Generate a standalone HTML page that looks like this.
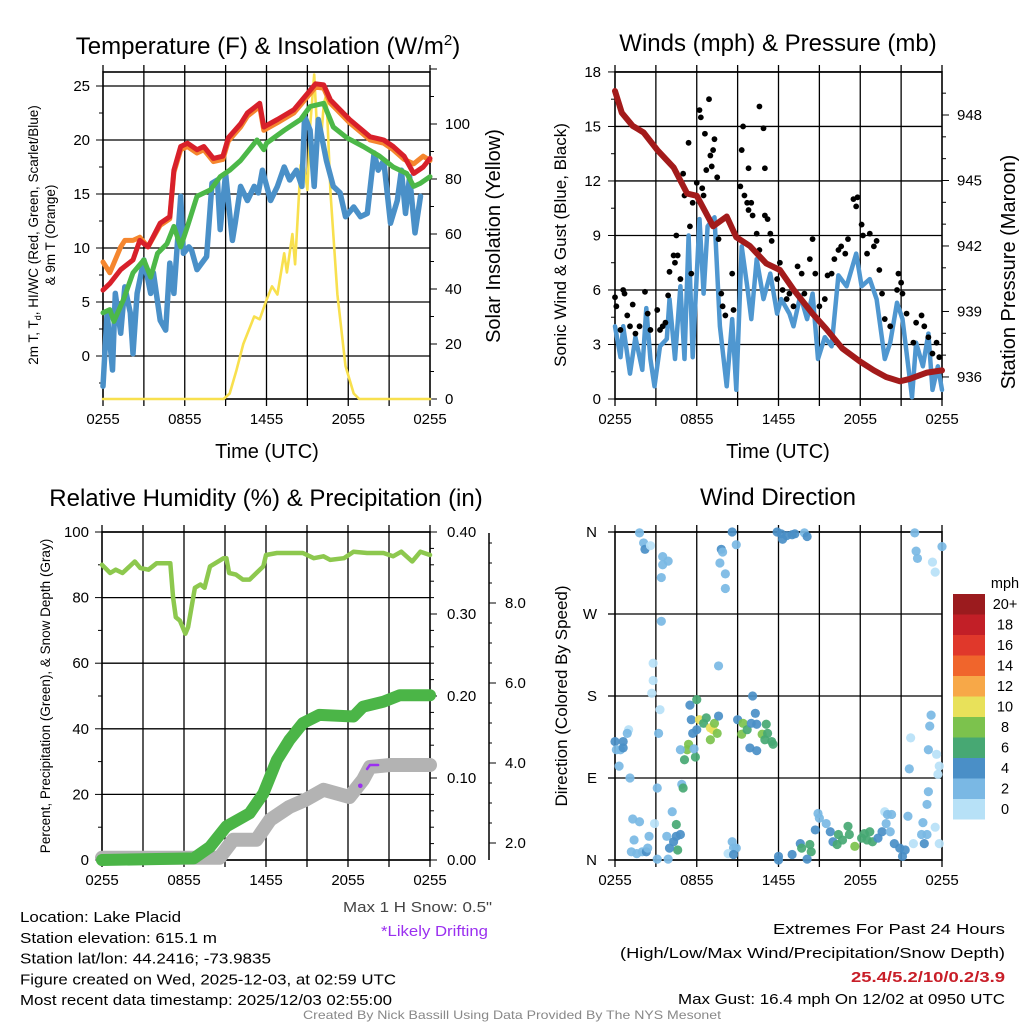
<!DOCTYPE html>
<html><head><meta charset="utf-8"><style>
html,body{margin:0;padding:0;background:#fff}
svg{display:block;font-family:"Liberation Sans",sans-serif}
</style></head><body>
<svg id="c" width="1024" height="1024" viewBox="0 0 1024 1024" xmlns="http://www.w3.org/2000/svg"></svg>
<script>
// ---------- DATA ----------
const xTickLabels=["0255","0855","1455","2055","0255"];
// Panel 1
const redT=[0,0.5,1.3,2.2,2.7,3.3,4.2,4.9,5.2,5.7,6.2,6.9,7.4,8.1,8.8,9.2,10.1,10.6,11.5,11.8,12.8,14.0,15,15.6,16.2,16.7,18.1,19.6,20.6,21.3,22.1,22.8,23.5,24];
const redV=[6.1,6.7,8,8.9,10.7,10.1,12.3,12.9,17.2,19.4,19.7,19.1,19.4,18.3,18.5,20.2,21.5,22.5,23.4,21.2,21.9,22.8,24.3,25.2,25.1,23.7,21.9,20.3,20,19.4,18.5,16.9,17.5,18.3];
const orangeT=[0,0.5,1.3,1.6,2.2,2.7,3.3,4.2,4.9,5.2,5.7,6.2,6.9,7.4,8.1,8.8,9.2,10.1,10.6,11.5,11.8,12.8,14.0,15,15.6,16.2,16.7,18.1,19.6,20.6,21.3,22.1,22.8,23.5,24];
const orangeV=[8.7,7.7,10.1,10.7,10.7,11,10.1,12.1,12.7,17.0,19.1,19.4,18.8,19.1,18.0,18.2,19.9,21.2,22.2,23.1,20.9,21.6,22.5,24.0,24.9,24.8,23.4,21.6,20.0,19.7,19.1,18.2,17.8,18.5,18.1];
const greenT=[0,0.5,0.8,1.5,2.2,2.6,3.0,3.5,4.0,4.7,5.2,5.7,6.2,6.9,7.9,8.6,9.3,10.1,11.3,11.8,12,13.3,14.5,15.2,16.2,16.9,17.9,19.1,20.3,21.3,22.3,22.8,23.3,24];
const greenV=[4,4.3,3.2,5.2,7.7,8.3,8.9,7.3,9.5,10.4,12,10.1,12,14.8,15.4,16.6,17.2,18.1,20,19.1,19.7,20.9,21.9,23.1,23.4,21.2,20.2,19.4,18.5,17.5,16.9,15.7,16,16.6];
const blueT=[0,0.3,0.7,0.9,1.3,1.6,2.0,2.2,2.5,3.0,3.5,3.7,4.2,4.6,4.9,5.2,5.7,5.9,6.3,6.5,6.9,7.6,8.0,8.4,8.6,9.0,9.5,9.7,10.1,10.6,11.1,11.4,11.7,12.3,12.8,13.3,13.7,14.2,14.6,14.8,15.2,15.5,15.8,16.4,16.9,17.4,17.8,18.4,18.9,19.4,19.9,20.2,20.6,21.1,21.6,21.9,22.2,22.5,22.9,23.3];
const blueV=[-2.8,4,-1.3,5.8,2.1,6.4,4,0.2,5.8,8.9,5.8,7.7,3.3,2.4,8.6,5.8,14.8,9.5,10.1,9.8,8,9.2,16,16.3,11.7,16.9,10.7,12.3,15.7,14.4,15.7,15.1,17.2,14.4,15.7,17.5,16.3,17.2,15.7,22.2,20.9,15.7,21.9,18.1,15.7,15.1,12.9,13.8,12.9,13.2,18.8,17.2,18.1,12.3,14.4,17.2,13.2,16.6,11.4,14.8];
const solarT=[0,8.85,9.3,9.8,10.3,11.1,11.5,12.0,12.4,12.8,13.3,13.5,13.9,14.1,14.5,14.7,15.0,15.2,15.5,15.7,16.0,16.2,16.4,16.7,17.2,17.8,18.4,18.8,24];
const solarV=[0,0,2,10.5,20,30,29,36,41,38,53,46,60,49,85,87,76,99,118,99,94,107,111,75,38,12,2,0,0];
// Panel 2
const presT=[0,0.5,1.3,2.1,3.1,4.3,5.3,6.0,7.2,8.2,8.9,9.9,11.1,12.1,13.1,14.5,15.5,16.7,18.0,19.0,19.9,20.9,21.6,22.9,24];
const presV=[949.1,948.1,947.5,947.2,946.4,945.6,944.4,944.3,942.9,943.35,942.4,942.0,941.2,940.9,940.0,938.9,938.2,937.3,936.7,936.3,936.0,935.8,935.9,936.2,936.3];
const windT=[0,0.4,0.6,1.1,1.5,2.0,2.3,2.6,2.9,3.3,3.8,4.0,4.4,4.8,5.1,5.4,5.7,6.2,6.5,6.8,7.3,7.7,8.2,8.6,8.9,9.3,9.7,10.0,10.4,10.9,11.4,11.9,12.2,12.8,13.1,13.6,14.1,14.5,14.9,15.4,15.9,16.4,17.0,17.7,18.1,18.7,19.2,19.8,20.2,20.7,21.1,21.8,22.1,22.6,23.0,23.3,23.7,24];
const windV=[4,2.3,4,1.4,3.4,1.6,5,2.2,0.7,2.9,3.3,5.5,2.2,6.2,2.2,9,2.3,9.9,5.8,9.5,10,4,0.7,4.4,0.5,8.4,6.2,4.4,7.7,5.5,6.9,4.7,5.5,4.7,4,5.7,4.4,5.8,2.2,3.4,2.9,6.8,6.2,8,6.2,6.6,5.5,2.2,3.1,5.3,4.4,0.1,3.1,1.8,3.6,0.5,1.8,0.5];
const gustT=[0,0.1,0.4,0.6,0.7,0.9,1.1,1.3,1.5,1.8,2.2,2.4,2.6,3.1,3.3,3.5,3.7,3.9,4.0,4.3,4.4,4.5,4.6,4.8,5.0,5.1,5.4,5.5,5.6,5.7,6.0,6.2,6.3,6.4,6.5,6.6,6.7,6.9,7.0,7.1,7.2,7.3,7.5,7.6,7.8,7.9,8.1,8.6,8.7,9.2,9.3,9.4,9.5,9.7,9.8,9.8,10.0,10.1,10.4,10.6,10.6,10.9,11,11,11.2,11.4,11.5,11.9,12.1,12.3,12.6,12.8,13.1,13.4,13.7,13.9,14.3,14.5,14.7,15,15.4,15.6,15.9,16.1,16.4,16.6,16.9,17.1,17.5,17.7,17.8,18.1,18.2,18.5,18.7,19,19.2,19.4,19.6,19.8,20.2,20.7,20.8,21,21.1,21.4,21.9,22.1,22.5,22.7,23,23.3,23.6,23.8];
const gustV=[5.6,5.1,3.8,6,5.8,4.6,4,5.2,3.6,4,5.9,4.7,3.8,4.9,3.8,4,4.2,5.7,7,7.9,7.5,9,7.9,6.6,12.4,11.2,14.1,9.5,6.9,10.8,11.9,15.9,15.5,11.6,11.2,14.6,12.6,16.5,13.4,12.8,13.7,14.3,12.2,8.8,5.8,5.1,4.6,6.9,4.9,11.7,13.7,15,11.2,10.8,12.7,10.4,10.8,10.1,9.1,8.2,16.1,14.9,12.7,10.1,9.9,9.1,8.7,6.6,7.5,6,5.5,5.8,5.1,7.3,6.9,5.8,7.7,8.8,6.9,5.1,5.5,6.8,6.9,7.7,8.2,8.4,8,8.8,11,10.6,11.1,9.6,9,8,9.1,8.4,8.7,7.1,5.8,4.4,4,6,6.9,6.4,5.8,4.7,3.1,4.2,4.6,4,3.4,2.5,3.1,2.3];
// Panel 3
const rhT=[0,0.6,1.0,1.5,2.4,2.8,3.4,4.0,5.0,5.2,5.4,5.7,6.1,6.3,6.8,7.2,7.5,7.9,8.9,9.1,9.3,9.8,10.3,10.8,11.3,11.8,12.0,12.8,13.7,14.7,15.5,16.2,16.7,17.7,18.4,19.4,20.6,21.3,21.9,22.7,23.3,24];
const rhV=[90,87.5,88.5,87.5,91,89,88.5,90.5,90.5,80,74,73,69,71,83,84,83,89.5,92,92,87.5,87,85.5,85.5,87.5,89.5,93,93.6,93.6,93.6,92,92.6,91.5,92,94,93.6,93.6,92.6,94,91,94,93];
const precipT=[0,6.7,7.9,9.1,10.8,11.8,12.8,13.7,14.7,15.9,18.4,19.1,20.6,21.8,24];
const precipV=[0,0.002,0.016,0.041,0.057,0.081,0.122,0.146,0.167,0.177,0.175,0.187,0.193,0.201,0.201];
const snowT=[0,8.6,9.6,11.3,12.3,13.7,14.9,16.2,18.1,19.1,19.6,21.1,24];
const snowV=[1.63,1.63,2.08,2.08,2.58,2.9,3.08,3.33,3.15,3.58,3.9,3.95,3.95];
const driftT=[19.4,19.6,20.2];
const driftV=[3.85,3.95,3.95];
// Panel 4
const dirT=[1.8,2.1,2.2,2.6,3.5,3.9,3.5,3.4,3.4,2.8,2.8,2.7,3.3,3.2,1.1,3.1,1.0,0.9,0.6,0,0.4,0.1,0.3,0.6,1.3,1.8,1.4,1.2,1.6,2.0,2.3,2.4,2.5,3.1,2.9,3.9,3.8,4.2,4.5,4.6,4.0,4.3,4.5,4.8,4.9,5.0,5.5,6.0,5.6,6.2,6.5,6.7,7.0,7.2,7.5,7.3,7.0,6.0,5.7,5.4,5.3,5.1,5.9,4.8,5.8,7.6,9.0,9.4,9.3,9.7,10.1,10.3,10.0,10.4,10.8,11.1,11.2,11.5,11.6,11.0,9.9,10.4,7.6,7.8,7.9,7.7,8.1,8.1,8.6,8.9,11.9,12.2,12.6,13.0,13.2,12.3,13.9,14.1,8.6,8.7,8.9,8.3,8.7,12.0,12.0,13.0,13.6,13.7,14.3,14.4,14.1,14.7,14.9,15.0,15.5,15.8,16.0,16.4,16.3,16.7,17.1,17.2,17.6,18.1,18.3,18.7,18.5,18.9,19.3,19.6,19.8,20.0,20.3,19.9,20.2,20.5,20.9,21.1,21.3,21.5,21.9,22.5,22.7,22.9,23.0,22.9,22.6,23.5,23.8,22.0,22.1,22.2,23.3,23.5,24.0,23.2,23.1,21.7,23.0,23.6,23.8,23.7,21.6];
const dirV=[359,348,341,345,333,328,324,310,262,216,197,183,165,139,90,79,143,139,130,130,121,121,103,123,45,42,22,9,7,9,9,13,26,1,40,1,26,53,39,11,13,20,26,28,83,79,170,176,154,154,150,156,145,143,139,150,132,143,139,127,121,110,113,121,122,158,154,150,138,143,180,161,150,149,138,149,139,130,127,132,123,120,213,341,338,326,314,298,360,346,360,358,356,357,358,352,359,355,20,13,13,7,6,4,0,6,18,13,17,9,1,33,51,46,40,31,20,28,17,22,37,28,15,24,29,31,22,20,24,31,53,50,50,40,31,18,13,4,11,48,18,28,18,28,75,61,41,36,18,359,339,331,327,316,344,159,147,134,121,116,103,94,100];
const dirS=[2,2,4,0,2,2,2,2,2,0,0,0,0,2,2,2,0,2,4,4,2,2,2,4,2,2,2,2,2,2,4,2,2,2,0,2,2,2,6,6,4,4,4,4,2,6,4,6,4,10,6,6,10,10,8,8,8,4,4,8,8,6,6,2,2,4,4,8,8,6,4,4,4,4,8,6,6,6,6,6,4,4,2,4,2,2,2,2,4,2,4,4,4,4,4,4,2,4,2,2,2,0,4,4,4,4,4,6,6,6,4,4,2,2,2,4,4,6,6,6,6,6,8,6,6,6,6,6,4,4,0,2,2,2,2,4,4,4,4,2,0,2,4,2,2,2,2,0,0,2,2,2,0,0,2,2,2,0,2,0,0,0,2];
const cbLabels=["20+","18","16","14","12","10","8","6","4","2","0"];
const cbColors=["#9b1b1e","#c21f27","#e0382b","#f0652c","#f7a848","#e8e15a","#7cc24d","#47a873","#4a8fc7","#7ab8e4","#b7e1f7"];

// ---------- HELPERS ----------
const NS="http://www.w3.org/2000/svg";
const svg=document.getElementById('c');
const TK=15;
function mk(tag,attrs,parent){const e=document.createElementNS(NS,tag);for(const k in attrs)e.setAttribute(k,attrs[k]);(parent||svg).appendChild(e);return e;}
function txt(s,x,y,size,anchor,parent,extra){const e=mk('text',Object.assign({x:x,y:y,'font-size':size,'text-anchor':anchor||'middle',fill:'#000'},extra||{}),parent);e.textContent=s;return e;}
function lin(x1,y1,x2,y2,col,w,parent){return mk('line',{x1:x1,y1:y1,x2:x2,y2:y2,stroke:col,'stroke-width':w},parent);}
function pathFrom(T,V,fx,fy){return T.map((t,i)=>(i?'L':'M')+fx(t).toFixed(1)+','+fy(V[i]).toFixed(1)).join('');}

function frame(x0,x1,y0,y1,name,hGridVals,fy){
  const g=mk('g',{});
  
  
  const fx=t=>x0+t*(x1-x0)/24;
  for(let h=3;h<24;h+=3)lin(fx(h),y0,fx(h),y1,'#000',1.3,g);
  hGridVals.forEach(v=>lin(x0,fy(v),x1,fy(v),'#000',1.3,g));
  for(let h=0;h<=24;h+=3){lin(fx(h),y1,fx(h),y1+7,'#000',1.3,g);lin(fx(h),y0,fx(h),y0-7,'#000',1.3,g);}
  mk('rect',{x:x0,y:y0,width:x1-x0,height:y1-y0,fill:'none',stroke:'#000','stroke-width':1.6},g);
  xTickLabels.forEach((s,i)=>{const l=txt(s,fx(i*6),y1+25,TK,'middle',g);});
  return {g,fx};
}

// ---------- PANEL 1 ----------
(function(){
  const x0=103,x1=430,y0=72,y1=399;
  const fy=v=>356-v*10.8, fs=s=>399-s*2.75;
  const {g,fx}=frame(x0,x1,y0,y1,'temperature-panel',[0,5,10,15,20,25],fy);
  for(let v=-2.5;v<=25;v+=2.5){lin(x0-(v%5?4:7),fy(v),x0,fy(v),'#000',1,g);}
  [0,5,10,15,20,25].forEach(v=>{const l=txt(String(v),x0-13,fy(v)+5,TK,'end',g);});
  for(let s=0;s<=120;s+=10){lin(x1,fs(s),x1+(s%20?4:7),fs(s),'#000',1,g);}
  [0,20,40,60,80,100].forEach(v=>{const l=txt(String(v),x1+15,fs(v)+5,TK,'start',g);});
  const series=[[solarT,solarV,'#f8e04e',2.6,fs,'solar-line'],[blueT,blueV,'#4a90c8',5.5,fy,'windchill-line'],[greenT,greenV,'#4cb848',5,fy,'dewpoint-line'],[orangeT,orangeV,'#f5862e',5,fy,'temp-9m-line'],[redT,redV,'#d8202a',5,fy,'temp-2m-line']];
  series.forEach(s=>{const p=mk('path',{d:pathFrom(s[0],s[1],fx,s[4]),fill:'none',stroke:s[2],'stroke-width':s[3],'stroke-linejoin':'round','stroke-linecap':'round'},g);});
  const t=txt('',268,54,24,'middle',g);
  t.innerHTML='Temperature (F) &amp; Insolation (W/m<tspan dy="-9" font-size="15">2</tspan><tspan dy="9">)</tspan>';
  const xl=txt('Time (UTC)',267,458,20,'middle',g);
  const yl=mk('text',{transform:'translate(38,235) rotate(-90)','font-size':13.5,'text-anchor':'middle'},g);
  yl.innerHTML='2m T, T<tspan font-size="9" dy="3">d</tspan><tspan dy="-3">, HI/WC (Red, Green, Scarlet/Blue)</tspan>';
  const yl2=txt('& 9m T (Orange)',0,0,13.5,'middle',g,{transform:'translate(55,235) rotate(-90)'});
  const yr=txt('Solar Insolation (Yellow)',0,0,20,'middle',g,{transform:'translate(500,236) rotate(-90)'});
})();

// ---------- PANEL 2 ----------
(function(){
  const x0=615,x1=942,y0=72,y1=399;
  const fy=v=>399-v*18.17, fp=p=>115-(p-948)*21.83;
  const {g,fx}=frame(x0,x1,y0,y1,'winds-panel',[0,3,6,9,12,15,18],fy);
  for(let v=0;v<=18;v+=1.5)lin(x0-(v%3?4:7),fy(v),x0,fy(v),'#000',1,g);
  [0,3,6,9,12,15,18].forEach(v=>{const l=txt(String(v),x0-14,fy(v)+5,TK,'end',g);});
  for(let p=936;p<=949;p+=1)lin(x1,fp(p),x1+((p%3)?4:7),fp(p),'#000',1,g);
  [936,939,942,945,948].forEach(v=>{const l=txt(String(v),x1+15,fp(v)+5,TK,'start',g);});
  const wp=mk('path',{d:pathFrom(windT,windV,fx,fy),fill:'none',stroke:'#4f97d0','stroke-width':4.5,'stroke-linejoin':'round','stroke-linecap':'round'},g);
  
  gustT.forEach((t,i)=>{const c=mk('circle',{cx:fx(t),cy:fy(gustV[i]),r:2.9,fill:'#000'},g);});
  const pp=mk('path',{d:pathFrom(presT,presV,fx,fp),fill:'none',stroke:'#a31b1b','stroke-width':6,'stroke-linejoin':'round','stroke-linecap':'round'},g);
  
  const t=txt('Winds (mph) & Pressure (mb)',778,51,24,'middle',g);
  const xl=txt('Time (UTC)',778,458,20,'middle',g);
  const yl=txt('Sonic Wind & Gust (Blue, Black)',0,0,17,'middle',g,{transform:'translate(566,245) rotate(-90)'});
  const yr=txt('Station Pressure (Maroon)',0,0,20,'middle',g,{transform:'translate(1015,272) rotate(-90)'});
})();

// ---------- PANEL 3 ----------
(function(){
  const x0=102,x1=430,y0=532,y1=860;
  const fy=v=>860-v*3.28, fpr=p=>860-p*820, fsn=s=>843-(s-2)*40;
  const {g,fx}=frame(x0,x1,y0,y1,'humidity-panel',[0,20,40,60,80,100],fy);
  for(let v=0;v<=100;v+=10)lin(x0-(v%20?4:7),fy(v),x0,fy(v),'#000',1,g);
  [0,20,40,60,80,100].forEach(v=>{const l=txt(String(v),x0-13,fy(v)+5,TK,'end',g);});
  for(let k=0;k<=40;k+=2)lin(x1,fpr(k/100),x1+(k%10?4:7),fpr(k/100),'#000',1,g);
  ['0.00','0.10','0.20','0.30','0.40'].forEach((s,i)=>{const l=txt(s,x1+17,fpr(i/10)+5,TK,'start',g);});
  const sx=489;lin(sx,533,sx,860,'#000',1.5,g);
  for(let s=2;s<=9.5;s+=0.5)lin(sx,fsn(s),sx+(Math.abs(s%2)<0.01?7:3),fsn(s),'#000',1,g);
  ['2.0','4.0','6.0','8.0'].forEach((s,i)=>{const l=txt(s,sx+16,fsn(2+2*i)+5,TK,'start',g);});
  const sp=mk('path',{d:pathFrom(snowT,snowV,fx,fsn),fill:'none',stroke:'#b3b3b3','stroke-width':14,'stroke-linejoin':'round','stroke-linecap':'round'},g);
  const pp=mk('path',{d:pathFrom(precipT,precipV,fx,fpr),fill:'none',stroke:'#4bb547','stroke-width':12,'stroke-linejoin':'round','stroke-linecap':'round'},g);
  const dp=mk('path',{d:pathFrom(driftT,driftV,fx,fsn),fill:'none',stroke:'#9b30f0','stroke-width':2.5,'stroke-linecap':'round'},g);
  const dd=mk('circle',{cx:fx(18.9),cy:fsn(3.43),r:2.3,fill:'#9b30f0'},g);
  const rp=mk('path',{d:pathFrom(rhT,rhV,fx,fy),fill:'none',stroke:'#8dc84e','stroke-width':4.5,'stroke-linejoin':'round','stroke-linecap':'round'},g);
  const t=txt('Relative Humidity (%) & Precipitation (in)',266,506,24,'middle',g);
  const yl=txt('Percent, Precipitation (Green), & Snow Depth (Gray)',0,0,13.5,'middle',g,{transform:'translate(50,696) rotate(-90)'});
})();

// ---------- PANEL 4 ----------
(function(){
  const x0=615,x1=942,y0=532,y1=860;
  const fy=d=>860-d*(328/360);
  const {g,fx}=frame(x0,x1,y0,y1,'wind-direction-panel',[0,90,180,270,360],fy);
  ['N','E','S','W','N'].forEach((s,i)=>{lin(x0-7,fy(i*90),x0,fy(i*90),'#000',1.3,g);const l=txt(s,x0-18,fy(i*90)+5,TK,'end',g);});
  dirT.forEach((t,i)=>{const idx=10-Math.min(10,Math.floor(dirS[i]/2));const c=mk('circle',{cx:fx(t),cy:fy(dirV[i]),r:4.6,fill:cbColors[idx],'fill-opacity':0.92},g);});
  const t=txt('Wind Direction',778,505,24,'middle',g);
  const yl=txt('Direction (Colored By Speed)',0,0,17,'middle',g,{transform:'translate(567,696) rotate(-90)'});
  const cb=mk('g',{},g);
  const u=txt('mph',1005,588,14.5,'middle',cb);
  cbColors.forEach((c,i)=>{const r=mk('rect',{x:953,y:594+i*20.5,width:32,height:20.5,fill:c},cb);
    const l=txt(cbLabels[i],1005,609+i*20.5,14.5,'middle',cb);});
})();

// ---------- FOOTER TEXT ----------
const info=["Location: Lake Placid","Station elevation: 615.1 m","Station lat/lon: 44.2416; -73.9835","Figure created on Wed, 2025-12-03, at 02:59 UTC","Most recent data timestamp: 2025/12/03 02:55:00"];
const infoW=[161,197,251,376,372];
info.forEach((s,i)=>{const l=txt(s,20,922+i*20.8,15,'start',null,{textLength:infoW[i],lengthAdjust:'spacingAndGlyphs'});});
const ms=txt('Max 1 H Snow: 0.5"',492,912,15,'end',null,{fill:'#444',textLength:149,lengthAdjust:'spacingAndGlyphs'});
const ld=txt('*Likely Drifting',488,936,15,'end',null,{fill:'#9b30f0',textLength:107,lengthAdjust:'spacingAndGlyphs'});
const ex=[["Extremes For Past 24 Hours",934,232,'#000','normal'],["(High/Low/Max Wind/Precipitation/Snow Depth)",958,385,'#000','normal'],["25.4/5.2/10/0.2/3.9",982,154,'#c81e28','bold'],["Max Gust: 16.4 mph On 12/02 at 0950 UTC",1004,327,'#000','normal']];
ex.forEach(e=>{const l=txt(e[0],1005,e[1],15,'end',null,{fill:e[3],'font-weight':e[4],textLength:e[2],lengthAdjust:'spacingAndGlyphs'});});
const cr=txt('Created By Nick Bassill Using Data Provided By The NYS Mesonet',512,1019,12,'middle',null,{fill:'#888',textLength:418,lengthAdjust:'spacingAndGlyphs'});
</script>
</body></html>
